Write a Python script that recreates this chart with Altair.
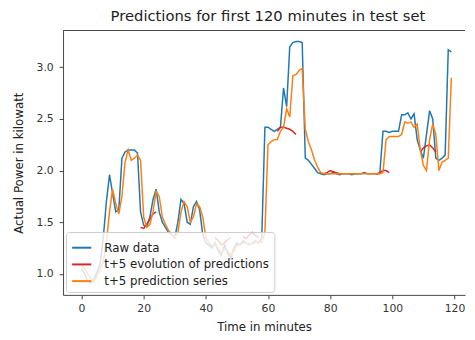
import altair as alt
import pandas as pd

# ---- data ----
minutes = list(range(120))
raw_power = [
    1.05, 1.00, 0.93, 0.91, 0.95, 1.02, 1.10, 1.35, 1.70, 1.96,
    1.78, 1.60, 1.62, 2.12, 2.18, 2.20, 2.20, 2.20, 2.17, 1.60,
    1.47, 1.46, 1.55, 1.72, 1.82, 1.60, 1.50, 1.45, 1.40, 1.38,
    1.35, 1.50, 1.72, 1.68, 1.50, 1.48, 1.65, 1.70, 1.62, 1.38,
    1.30, 1.28, 1.25, 1.30, 1.22, 1.18, 1.28, 1.20, 1.15, 1.25,
    1.30, 1.28, 1.32, 1.30, 1.28, 1.30, 1.32, 1.30, 1.35, 2.42,
    2.42, 2.40, 2.38, 2.40, 2.42, 2.80, 2.62, 3.20, 3.24, 3.25,
    3.25, 3.24, 2.12, 2.10, 2.06, 2.02, 1.98, 1.97, 1.96, 1.97,
    1.97, 1.98, 1.97, 1.96, 1.97, 1.97, 1.97, 1.96, 1.97, 1.97,
    1.97, 1.98, 1.97, 1.97, 1.97, 1.97, 1.98, 2.38, 2.38, 2.37,
    2.38, 2.38, 2.38, 2.54, 2.54, 2.56, 2.50, 2.55, 2.30, 2.20,
    2.12, 2.35, 2.58, 2.50, 2.12, 2.10, 2.12, 2.15, 3.17, 3.15,
]
pred_power = [
    1.08, 1.05, 1.00, 0.95, 0.93, 0.98, 1.05, 1.12, 1.30, 1.60,
    1.82, 1.68, 1.58, 1.75, 2.08, 2.20, 2.10, 2.12, 2.15, 2.10,
    1.55, 1.45, 1.48, 1.60, 1.80, 1.75, 1.55, 1.48, 1.42, 1.38,
    1.35, 1.40, 1.60, 1.70, 1.65, 1.50, 1.55, 1.68, 1.65, 1.55,
    1.35, 1.30, 1.27, 1.28, 1.25, 1.20, 1.24, 1.22, 1.18, 1.22,
    1.28, 1.28, 1.30, 1.30, 1.29, 1.29, 1.31, 1.31, 1.30, 1.40,
    2.25, 2.28, 2.30, 2.30, 2.38, 2.42, 2.60, 2.52, 2.92, 2.93,
    2.97, 2.99, 2.40, 2.28, 2.20, 2.10, 2.03, 1.98, 1.97, 1.97,
    1.97, 1.97, 1.97, 1.97, 1.97, 1.97, 1.97, 1.97, 1.97, 1.97,
    1.97, 1.97, 1.97, 1.97, 1.97, 1.97, 1.97, 1.98, 2.30, 2.33,
    2.33, 2.33, 2.33, 2.35, 2.47, 2.46, 2.47, 2.42, 2.45, 2.20,
    2.05, 2.00, 2.30, 2.45, 2.35, 2.00, 2.08, 2.10, 2.12, 2.90,
]
evo_minutes = [19, 20, 21, 22, 23, 24,
               43, 44, 45, 46, 47, 48,
               52, 53, 54, 55, 56, 57,
               63, 64, 65, 66, 67, 68, 69,
               78, 79, 80, 81, 82, 83,
               95, 96, 97, 98, 99,
               109, 110, 111, 112, 113, 114]
evo_power = [1.45, 1.44, 1.48, 1.53, 1.58, 1.60,
             1.35, 1.32, 1.28, 1.30, 1.33, 1.35,
             1.36, 1.34, 1.38, 1.40, 1.37, 1.35,
             2.38, 2.42, 2.42, 2.41, 2.40, 2.38, 2.35,
             1.97, 1.98, 2.00, 1.99, 1.98, 1.97,
             1.96, 1.98, 2.00, 2.00, 1.98,
             2.18, 2.22, 2.24, 2.25, 2.22, 2.18]
evo_segment = [1] * 6 + [2] * 6 + [3] * 6 + [4] * 7 + [5] * 6 + [6] * 5 + [7] * 6

series_names = ["Raw data", "t+5 evolution of predictions", "t+5 prediction series"]
series_colors = ["#1f77b4", "#d62728", "#ff7f0e"]
x_ticks = [0, 20, 40, 60, 80, 100, 120]
y_ticks = [1.0, 1.5, 2.0, 2.5, 3.0]

raw_df = pd.DataFrame({"minute": minutes, "power": raw_power,
                       "series": series_names[0], "seg": 0})
pred_df = pd.DataFrame({"minute": minutes, "power": pred_power,
                        "series": series_names[2], "seg": 0})
evo_df = pd.DataFrame({"minute": evo_minutes, "power": evo_power,
                       "series": series_names[1], "seg": evo_segment})

FONT = "DejaVu Sans"

x_enc = alt.X("minute:Q",
              scale=alt.Scale(domain=[-5.95, 123.4], nice=False, zero=False),
              axis=alt.Axis(values=x_ticks, title="Time in minutes", grid=False,
                            format="d"))
y_enc = alt.Y("power:Q",
              scale=alt.Scale(domain=[0.796, 3.357], nice=False, zero=False),
              axis=alt.Axis(values=y_ticks, title="Actual Power in kilowatt",
                            grid=False, format=".1f"))
color_enc = alt.Color("series:N",
                      scale=alt.Scale(domain=series_names, range=series_colors),
                      legend=alt.Legend(title=None, orient="none",
                                        legendX=3, legendY=205,
                                        symbolType="stroke", symbolSize=380,
                                        symbolStrokeWidth=2,
                                        labelFontSize=12, labelFont=FONT,
                                        labelColor="#222", labelLimit=400,
                                        fillColor="rgba(255,255,255,0.8)",
                                        strokeColor="#cccccc", cornerRadius=3,
                                        padding=5, rowPadding=-1,
                                        labelOffset=12))

raw_line = alt.Chart(raw_df).mark_line(strokeWidth=1.5).encode(
    x=x_enc, y=y_enc, color=color_enc, order="minute:Q")
evo_line = alt.Chart(evo_df).mark_line(strokeWidth=1.5).encode(
    x=x_enc, y=y_enc, color=color_enc, detail="seg:N", order="minute:Q")
pred_line = alt.Chart(pred_df).mark_line(strokeWidth=1.5).encode(
    x=x_enc, y=y_enc, color=color_enc, order="minute:Q")

top_border = alt.Chart(pd.DataFrame({"a": [0]})).mark_rule(
    color="#444", strokeWidth=1).encode(
    x=alt.value(0), x2=alt.value(409), y=alt.value(0))

chart = alt.layer(raw_line, evo_line, pred_line, top_border).properties(
    width=409, height=269,
    autosize=alt.AutoSizeParams(type="none"),
    padding={"left": 56, "top": 20, "right": 2, "bottom": 42},
    title=alt.TitleParams("Predictions for first 120 minutes in test set",
                          font=FONT, fontSize=15, fontWeight="normal",
                          color="#222", anchor="middle", offset=6, dx=4),
).configure_view(stroke=None).configure_axis(
    labelFont=FONT, titleFont=FONT, labelFontSize=11, titleFontSize=12,
    titleFontWeight="normal", labelColor="#333", titleColor="#222",
    domainColor="#444", tickColor="#444", tickSize=4,
).configure_axisY(titlePadding=11, labelPadding=6).configure_axisX(
    titlePadding=8, labelPadding=4)

chart.save("out.html", embed_options={"renderer": "svg", "actions": False})
